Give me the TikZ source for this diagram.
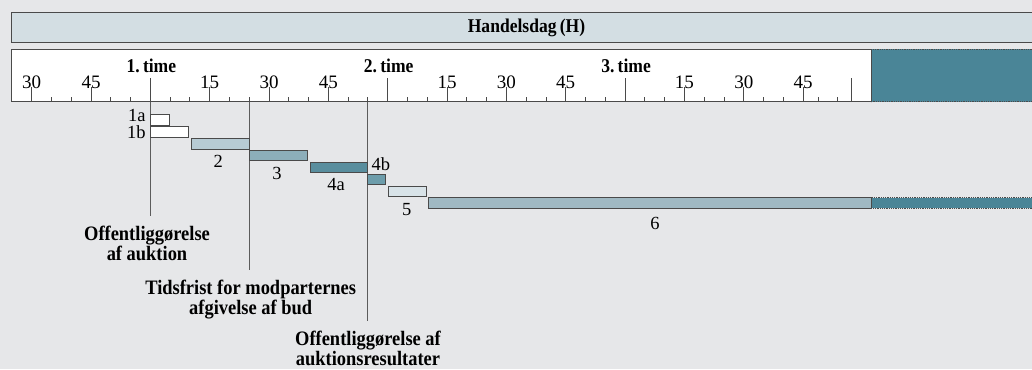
\documentclass[tikz,border=0pt]{standalone}
\usepackage{fontspec}
\setmainfont{Liberation Serif}
\newfontfamily\condfont[FakeStretch=0.9]{Liberation Serif}
\usepackage{tikz}

\definecolor{bggray}{HTML}{E6E7E9}
\definecolor{dayblue}{HTML}{D3DEE3}
\definecolor{edgegray}{HTML}{4A4A4A}
\definecolor{teal}{HTML}{4A8597}
\definecolor{ctwo}{HTML}{B7CBD4}
\definecolor{cthree}{HTML}{8CAEBA}
\definecolor{cfoura}{HTML}{598E9E}
\definecolor{cfourb}{HTML}{6D9DAB}
\definecolor{cfive}{HTML}{D8E3E8}
\definecolor{csix}{HTML}{A0B9C3}

\begin{document}
\begin{tikzpicture}[x=1pt, y=-1pt,
    every node/.style={inner sep=0pt, outer sep=0pt},
    bar/.style={draw=edgegray, line width=0.8pt},
    rest/.style={fill=teal, draw=edgegray, densely dotted, line width=0.8pt},
    tick/.style={draw=edgegray, line width=0.9pt},
    marker/.style={draw=edgegray!90, line width=0.9pt, shorten >=10pt},
    num/.style={font=\fontsize{19}{19}\selectfont, anchor=base},
    lab/.style={font=\fontsize{18.5}{18.5}\selectfont, anchor=base},
    hour/.style={font=\condfont\bfseries\fontsize{19.5}{19.5}\selectfont, anchor=base},
    note/.style={font=\condfont\bfseries\fontsize{20.5}{19.5}\selectfont, align=center, anchor=north}]
      \clip (0,0) rectangle (1032,369);
      \fill[bggray] (0,0) rectangle (1032,369);
      % handelsdag
      \draw[fill=dayblue, draw=edgegray, line width=1pt] (11.7,12.3) rectangle (1045,42.3);
      \node[hour] (day) at (526.5,32.3) {Handelsdag\,(H)};
      % time scale
      \draw[rest] (871,49.3) rectangle (1045,101.7);
      \draw[fill=white, draw=edgegray, line width=0.9pt] (11.7,49.3) rectangle (871,101.7);
      \foreach \k in {1,...,40}
        \draw[tick] ({11.9+19.78*\k},101.7) -- ++(0,-4.7);
      \draw[tick] (818.3,101.7) -- ++(0,-4.7);
      \draw[tick] (837.7,101.7) -- ++(0,-4.7);
      \draw[tick] (851.7,101.7) -- ++(0,-23.4);
      \foreach \k/\m in {1/30,4/45,10/15,13/30,16/45,22/15,25/30,28/45,34/15,37/30,40/45} {
        \draw[tick] ({11.9+19.78*\k},101.7) -- ++(0,-14.4);
        \node[num] (m\k) at ({11.9+19.78*\k},88.3) {\m};
      }
      \foreach \k/\h in {7/1,19/2,31/3} {
        \draw[tick] ({11.9+19.78*\k},101.7) -- ++(0,-23.4);
        \node[hour] (h\h) at ({12.9+19.78*\k},72.7) {\h.\,time};
      }
      % markers
      \coordinate (pub) at (150.7,101.7);
      \coordinate (dead) at (249,101.7);
      \coordinate (res) at (367.3,101.7);
      \node[note] (npub) at (147,226.3) {Offentliggørelse\\af auktion};
      \node[note] (ndead) at (250.7,280.3) {Tidsfrist for modparternes\\afgivelse af bud};
      \node[note] (nres) at (368,331.3) {Offentliggørelse af\\auktionsresultater};
      \draw[marker] (pub) -- (pub |- npub.north);
      \draw[marker] (dead) -- (dead |- ndead.north);
      \draw[marker] (res) -- (res |- nres.north);
      % bars
      \draw[bar, fill=white] (150.7,114.3) rectangle (169.3,125);
      \node[lab, anchor=base east] (l1a) at (145.7,121.7) {1a};
      \draw[bar, fill=white] (150.7,126.7) rectangle (188.7,137.3);
      \node[lab, anchor=base east] (l1b) at (145.7,138.7) {1b};
      \draw[bar, fill=ctwo] (191.3,138.3) rectangle (249,149);
      \node[lab] (l2) at (218.3,167) {2};
      \draw[bar, fill=cthree] (249,150) rectangle (307,160.7);
      \node[lab] (l3) at (277,179) {3};
      \draw[bar, fill=cfoura] (310,162) rectangle (367.3,172.7);
      \node[lab] (l4a) at (336,190.7) {4a};
      \draw[bar, fill=cfourb] (367.3,174) rectangle (385.7,184.7);
      \node[lab, anchor=base west] (l4b) at (371.5,170.7) {4b};
      \draw[bar, fill=cfive] (388.7,186) rectangle (426.7,196.7);
      \node[lab] (l5) at (406.7,215) {5};
      \draw[rest] (871,197.7) rectangle (1045,208.3);
      \draw[bar, fill=csix] (428,197.7) rectangle (871,208.3);
      \node[lab] (l6) at (655,229) {6};
    \end{tikzpicture}
\end{document}
